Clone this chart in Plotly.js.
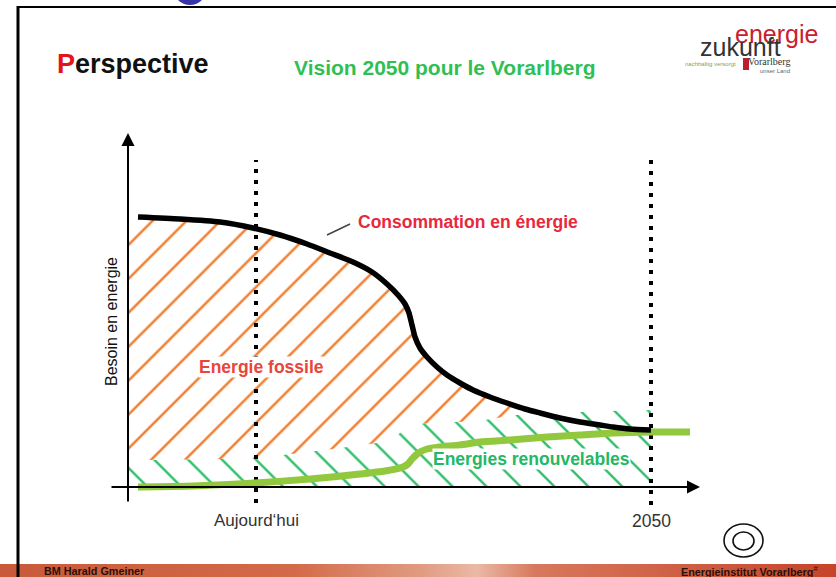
<!DOCTYPE html>
<html><head><meta charset="utf-8">
<script src="https://cdn.plot.ly/plotly-3.0.1.min.js"></script>
<style>html,body{margin:0;padding:0;background:#fff}#chart{width:836px;height:577px}</style>
</head><body><div id="chart"></div>
<script>
// Schematic values: time = distance along the time axis, energy = height above it
const consumptionTime   = [10,52,92,125,152,179,202,225,244,259,270,277,281,284,287,292,299,309,319,332,345,362,379,397,412,432,452,472,485,502,523];
const consumptionEnergy = [270,268,265,259,252,243,234,225,215,203,192,183,174,162,150,139,130,120,112,104,97,90,84,78,74,69,65,62,60,58,57];

const renewableTime   = [10,65,127,182,232,257,275,280,284,288,292,299,312,332,352,382,419,452,485,522,562];
const renewableEnergy = [0,1,4,8,13,16,20,23,28,32,35,38,40,42,45,47,50,52,54,55,55];

// upper edge of the renewable share (green hatching)
const shareTime   = [0,125,172,212,262,282,304,349,389,434,479,523];
const shareEnergy = [27,29,34,39,47,61,64,66,72,74,76,77];

// fossil share (orange hatching): between share edge and consumption
const fossilLowTime    = [0,125,172,212,262,282,304,349,389,415];
const fossilLowEnergy  = [27,29,34,39,47,61,64,66,72,74];
const fossilHighTime   = [0,10,52,92,125,152,179,202,225,244,259,270,277,281,284,287,292,299,309,319,332,345,362,379,397,415];
const fossilHighEnergy = [262,270,268,265,259,252,243,234,225,215,203,192,183,174,162,150,139,130,120,112,104,97,90,84,78,74];

const markerTimes  = [128, 523];
const markerLabels = ["Aujourd\u2018hui", "2050"];

const W = 836, H = 577;
const P = (px, py) => ({x: px / W, y: 1 - py / H, xref: 'paper', yref: 'paper'});
const FONT = 'Liberation Sans, Arial, sans-serif';

const traces = [
  // footer band
  {x: [-128, 708, 708, -128], y: [-90, -90, -77, -77], mode: 'lines', fill: 'toself',
   line: {width: 0}, hoverinfo: 'skip', showlegend: false,
   fillgradient: {type: 'horizontal', colorscale: [[0, '#c85a3a'], [0.35, '#d36a48'], [0.5, '#e09a80'], [0.57, '#eab9a6'], [0.64, '#d7785c'], [1, '#c6442a']]}},
  // renewable share hatching
  {x: shareTime, y: shareEnergy, mode: 'lines', line: {width: 0, shape: 'spline', smoothing: 0.6},
   fill: 'tozeroy', fillcolor: 'rgba(0,0,0,0)',
   fillpattern: {shape: '\\', fgcolor: '#2fbf6b', size: 24, solidity: 0.1},
   hoverinfo: 'skip', showlegend: false},
  // fossil share hatching
  {x: fossilLowTime, y: fossilLowEnergy, mode: 'lines', line: {width: 0, shape: 'spline', smoothing: 0.6},
   hoverinfo: 'skip', showlegend: false},
  {x: fossilHighTime, y: fossilHighEnergy, mode: 'lines', line: {width: 0, shape: 'spline', smoothing: 0.6},
   fill: 'tonexty', fillcolor: 'rgba(0,0,0,0)',
   fillpattern: {shape: '/', fgcolor: '#f07b2c', size: 24, solidity: 0.1},
   hoverinfo: 'skip', showlegend: false},
  // today / 2050 markers
  {x: [markerTimes[0], markerTimes[0]], y: [-16, 327], mode: 'lines',
   line: {color: '#000', width: 4, dash: '4px,7px'}, hoverinfo: 'skip', showlegend: false},
  {x: [markerTimes[1], markerTimes[1]], y: [-18, 327], mode: 'lines',
   line: {color: '#000', width: 4, dash: '4px,7px'}, hoverinfo: 'skip', showlegend: false},
  // curves
  {x: renewableTime, y: renewableEnergy, mode: 'lines', line: {color: '#92c83e', width: 7, shape: 'spline', smoothing: 0.6},
   hoverinfo: 'skip', showlegend: false},
  {x: consumptionTime, y: consumptionEnergy, mode: 'lines', line: {color: '#000', width: 5.5, shape: 'spline', smoothing: 0.6},
   hoverinfo: 'skip', showlegend: false}
];

function txt(px, py, text, size, color, opts) {
  return Object.assign(P(px, py), {text: text, showarrow: false, font: {family: FONT, size: size, color: color},
    xanchor: 'center', yanchor: 'middle'}, opts || {});
}

const annotations = [
  // axes with arrow heads
  {x: 0, y: 354, ax: 0, ay: -16, xref: 'x', yref: 'y', axref: 'x', ayref: 'y', text: '', showarrow: true,
   arrowhead: 2, arrowsize: 1.3, arrowwidth: 2, arrowcolor: '#000'},
  {x: 572, y: 0, ax: -18, ay: 0, xref: 'x', yref: 'y', axref: 'x', ayref: 'y', text: '', showarrow: true,
   arrowhead: 2, arrowsize: 1.3, arrowwidth: 2, arrowcolor: '#000'},
  txt(55, 64, '<b><span style="color:#e3141b">P</span>erspective</b>', 27, '#111', {xanchor: 'left'}),
  txt(445, 67, '<b>Vision 2050 pour le Vorarlberg</b>', 21, '#2fbf55'),
  txt(356, 222, '<b>Consommation en énergie</b>', 17.5, '#e8283c', {xanchor: 'left'}),
  txt(198, 367, '<b>Energie fossile</b>', 17.5, '#e8463a', {xanchor: 'left', bgcolor: '#fff', borderpad: 0}),
  txt(432, 459, '<b>Energies renouvelables</b>', 17.5, '#22b865', {xanchor: 'left', bgcolor: '#fff', borderpad: 0}),
  txt(111, 322, 'Besoin en energie', 16, '#111', {textangle: -90}),
  txt(128 + markerTimes[0], 520, markerLabels[0], 17, '#333'),
  txt(128 + markerTimes[1], 521, markerLabels[1], 17.5, '#333'),
  // logo
  txt(776, 34, 'energie', 25, '#c8202e'),
  txt(740, 47, 'zukunft', 25, '#333'),
  txt(710, 64, 'nachhaltig versorgt', 6, '#8aa050'),
  txt(769, 62, 'Vorarlberg', 10, '#333', {font: {family: 'Liberation Serif, serif', size: 10, color: '#333'}}),
  txt(775, 71, 'unser Land', 6, '#666'),
  // footer
  txt(42, 571, '<b>BM Harald Gmeiner</b>', 10.8, '#2a1008', {xanchor: 'left'}),
  txt(820, 571, '<b>Energieinstitut Vorarlberg</b><sup>#</sup>', 10.8, '#2a1008', {xanchor: 'right'})
];

const shapes = [
  // slide frame
  {type: 'line', xref: 'paper', yref: 'paper', x0: 17 / W, x1: 1, y0: 1 - 7 / H, y1: 1 - 7 / H, line: {color: '#000', width: 2}},
  {type: 'line', xref: 'paper', yref: 'paper', x0: 18 / W, x1: 18 / W, y0: 1 - 6 / H, y1: 0, line: {color: '#000', width: 3}},
  {type: 'circle', xref: 'paper', yref: 'paper', x0: 173 / W, x1: 207 / W, y0: 1 - 5 / H, y1: 1 + 29 / H, fillcolor: '#3535a8', line: {width: 0}},
  // shield in logo
  {type: 'rect', xref: 'paper', yref: 'paper', x0: 743 / W, x1: 749 / W, y0: 1 - 70 / H, y1: 1 - 58 / H, fillcolor: '#b82030', line: {width: 0}},
  // leader line
  {type: 'line', xref: 'paper', yref: 'paper', x0: 327 / W, y0: 1 - 235 / H, x1: 350 / W, y1: 1 - 224 / H, line: {color: '#444', width: 1.5}},
  // footer icon
  {type: 'circle', xref: 'paper', yref: 'paper', x0: 724 / W, x1: 763 / W, y0: 1 - 557 / H, y1: 1 - 524 / H, line: {color: '#111', width: 1.6}},
  {type: 'circle', xref: 'paper', yref: 'paper', x0: 733 / W, x1: 754 / W, y0: 1 - 550 / H, y1: 1 - 532 / H, line: {color: '#111', width: 1.6}}
];

const layout = {
  width: W, height: H, margin: {l: 0, r: 0, t: 0, b: 0},
  paper_bgcolor: '#fff', plot_bgcolor: '#fff',
  xaxis: {range: [-128, 708], visible: false, fixedrange: true},
  yaxis: {range: [-90, 487], visible: false, fixedrange: true},
  showlegend: false, annotations: annotations, shapes: shapes,
  font: {family: FONT}
};

Plotly.newPlot('chart', traces, layout, {staticPlot: true, displayModeBar: false});
</script>
</body></html>
